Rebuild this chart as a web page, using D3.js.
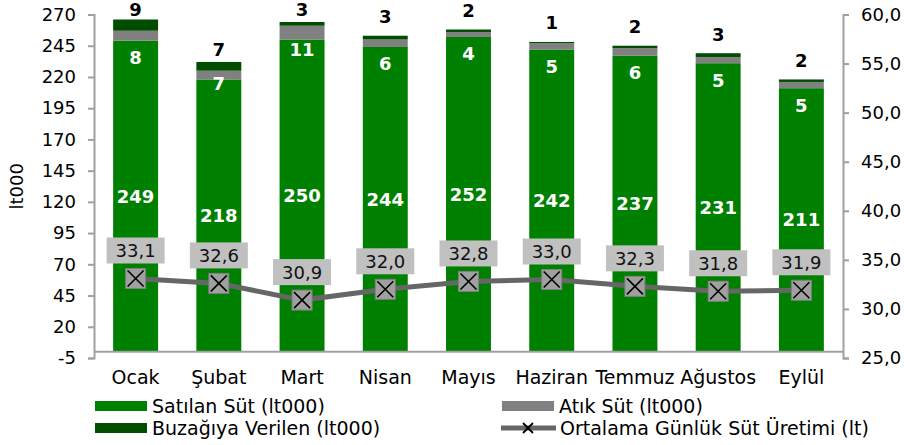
<!DOCTYPE html>
<html>
<head>
<meta charset="utf-8">
<script src="https://cdn.jsdelivr.net/npm/d3@7/dist/d3.min.js"></script>
<style>
    body { margin: 0; background: #fff; }
    svg { display: block; font-family: "DejaVu Sans", Verdana, sans-serif; }
</style>
</head>
<body>
<svg id="chart" width="904" height="445"></svg>
<script>
// months and series
const months = ['Ocak', 'Şubat', 'Mart', 'Nisan', 'Mayıs', 'Haziran', 'Temmuz', 'Ağustos', 'Eylül'];
const satilan = [249, 218, 250, 244, 252, 242, 237, 231, 211];
const atik = [8, 7, 11, 6, 4, 5, 6, 5, 5];
const buzagi = [9, 7, 3, 3, 2, 1, 2, 3, 2];
const ortalama = [33.1, 32.6, 30.9, 32.0, 32.8, 33.0, 32.3, 31.8, 31.9];

const leftTicks = [-5, 20, 45, 70, 95, 120, 145, 170, 195, 220, 245, 270];
const rightTicks = [25, 30, 35, 40, 45, 50, 55, 60];

const colors = {
    satilan: '#008000',
    atik: '#808080',
    buzagi: '#004d00',
    line: '#666666',
    axis: '#a0a0a0'
};

// a couple of labels were dragged by hand in the original
const atikShift = { 'Şubat': -13, 'Mart': -7 };
const buzagiShift = { 'Şubat': 7 };

const svg = d3.select('#chart');
const plot = { left: 94, right: 843, top: 14.5, bottom: 358 };

const x = d3.scaleBand()
    .domain(months)
    .range([plot.left, plot.right])
    .paddingInner(0.46)
    .paddingOuter(0.23);

const yL = d3.scaleLinear().domain([-5, 270]).range([plot.bottom, plot.top]);
const yR = d3.scaleLinear().domain([25, 60]).range([plot.bottom, plot.top]);

const fmtComma = (v) => d3.format('.1f')(v).replace('.', ',');

// bars
const rows = months.map((m, i) => ({
    month: m,
    segs: [
        { key: 'satilan', y0: 0, y1: satilan[i], v: satilan[i] },
        { key: 'atik', y0: satilan[i], y1: satilan[i] + atik[i], v: atik[i] },
        { key: 'buzagi', y0: satilan[i] + atik[i], y1: satilan[i] + atik[i] + buzagi[i], v: buzagi[i] }
    ]
}));

const barG = svg.append('g');
rows.forEach((r) => {
    barG.selectAll(null)
        .data(r.segs)
        .enter()
        .append('rect')
        .attr('x', x(r.month))
        .attr('width', x.bandwidth())
        .attr('y', (d) => yL(d.y1))
        .attr('height', (d) => yL(d.y0) - yL(d.y1))
        .attr('fill', (d) => colors[d.key]);
});

// axes
const axisG = svg.append('g');
const leftAxis = axisG.append('g')
    .attr('transform', `translate(${plot.left},0)`)
    .call(d3.axisLeft(yL).tickValues(leftTicks).tickSize(6).tickPadding(12).tickFormat((v) => String(v)));
const rightAxis = axisG.append('g')
    .attr('transform', `translate(${plot.right},0)`)
    .call(d3.axisRight(yR).tickValues(rightTicks).tickSize(6).tickPadding(12).tickFormat(fmtComma));

[leftAxis, rightAxis].forEach((a) => {
    a.select('.domain').attr('stroke', colors.axis).attr('stroke-width', 2);
    a.selectAll('.tick line').attr('stroke', colors.axis).attr('stroke-width', 2);
    a.selectAll('.tick text')
        .attr('fill', '#000')
        .style('font-size', '18px')
        .style('font-family', '"DejaVu Sans", Verdana, sans-serif');
});

// category axis sits at zero
axisG.append('line')
    .attr('x1', plot.left).attr('x2', plot.right)
    .attr('y1', yL(0)).attr('y2', yL(0))
    .attr('stroke', colors.axis)
    .attr('stroke-width', 2);

axisG.selectAll('.month')
    .data(months)
    .enter()
    .append('text')
    .attr('class', 'month')
    .attr('x', (d) => x(d) + x.bandwidth() / 2)
    .attr('y', 384)
    .attr('text-anchor', 'middle')
    .style('font-size', '19px')
    .text((d) => d);

svg.append('text')
    .attr('transform', `translate(23,${(plot.top + plot.bottom) / 2}) rotate(-90)`)
    .attr('text-anchor', 'middle')
    .style('font-size', '18px')
    .text('lt000');

// bar labels
const lblG = svg.append('g').style('font-weight', 'bold').style('font-size', '18px');
months.forEach((m, i) => {
    const cx = x(m) + x.bandwidth() / 2;
    lblG.append('text')
        .attr('x', cx)
        .attr('y', (yL(0) + yL(satilan[i])) / 2)
        .attr('dy', '0.36em')
        .attr('text-anchor', 'middle')
        .attr('fill', '#fff')
        .text(satilan[i]);
    lblG.append('text')
        .attr('x', cx)
        .attr('y', yL(satilan[i]) + 17 + (atikShift[m] || 0))
        .attr('dy', '0.36em')
        .attr('text-anchor', 'middle')
        .attr('fill', '#fff')
        .text(atik[i]);
    const top = yL(satilan[i] + atik[i] + buzagi[i]);
    lblG.append('text')
        .attr('x', cx)
        .attr('y', Math.max(10, top - 19) + (buzagiShift[m] || 0))
        .attr('dy', '0.36em')
        .attr('text-anchor', 'middle')
        .attr('fill', '#000')
        .text(buzagi[i]);
});

// average line
function drawMarker(g, cx, cy, size) {
    const h = size / 2;
    g.append('rect')
        .attr('x', cx - h).attr('y', cy - h)
        .attr('width', size).attr('height', size)
        .attr('fill', '#a0a0a0')
        .attr('stroke', '#808080')
        .attr('stroke-width', 1);
    const k = h - 2;
    g.append('path')
        .attr('d', `M${cx - k},${cy - k}L${cx + k},${cy + k}M${cx + k},${cy - k}L${cx - k},${cy + k}`)
        .attr('stroke', '#000')
        .attr('stroke-width', 1.6)
        .attr('fill', 'none');
}

const pts = months.map((m, i) => [x(m) + x.bandwidth() / 2, yR(ortalama[i])]);
const lineG = svg.append('g');
lineG.append('path')
    .attr('d', d3.line()(pts))
    .attr('fill', 'none')
    .attr('stroke', colors.line)
    .attr('stroke-width', 5);

pts.forEach((p, i) => {
    drawMarker(lineG, p[0], p[1], 20);
    lineG.append('rect')
        .attr('x', p[0] - 29)
        .attr('y', p[1] - 41)
        .attr('width', 58)
        .attr('height', 26)
        .attr('fill', '#c0c0c0');
    lineG.append('text')
        .attr('x', p[0])
        .attr('y', p[1] - 28)
        .attr('dy', '0.36em')
        .attr('text-anchor', 'middle')
        .attr('fill', '#111')
        .style('font-size', '18px')
        .text(fmtComma(ortalama[i]));
});

// legend
const legend = svg.append('g').style('font-size', '19px');
const legendItems = [
    { label: 'Satılan Süt (lt000)', color: colors.satilan, x: 95, y: 406 },
    { label: 'Buzağıya Verilen (lt000)', color: colors.buzagi, x: 95, y: 428 },
    { label: 'Atık Süt (lt000)', color: colors.atik, x: 502, y: 406 }
];
legendItems.forEach((d) => {
    legend.append('rect')
        .attr('x', d.x).attr('y', d.y - 5)
        .attr('width', 52).attr('height', 10)
        .attr('fill', d.color);
    legend.append('text')
        .attr('x', d.x + 57)
        .attr('y', d.y)
        .attr('dy', '0.36em')
        .text(d.label);
});
legend.append('line')
    .attr('x1', 501).attr('x2', 556)
    .attr('y1', 428).attr('y2', 428)
    .attr('stroke', colors.line)
    .attr('stroke-width', 5);
legend.append('path')
    .attr('d', 'M523,423L533,433M533,423L523,433')
    .attr('stroke', '#000')
    .attr('stroke-width', 1.8);
legend.append('text')
    .attr('x', 560)
    .attr('y', 428)
    .attr('dy', '0.36em')
    .text('Ortalama Günlük Süt Üretimi (lt)');
</script>
</body>
</html>
